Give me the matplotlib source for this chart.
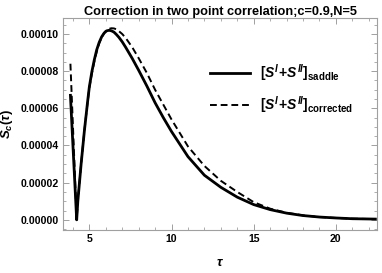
import matplotlib
matplotlib.use("Agg")
import matplotlib.pyplot as plt
from matplotlib.ticker import MultipleLocator, FormatStrFormatter

plt.rcParams['font.family'] = ['Liberation Sans', 'DejaVu Sans']
plt.rcParams['font.weight'] = 'bold'
plt.rcParams['mathtext.fontset'] = 'custom'
plt.rcParams['mathtext.it'] = 'Liberation Sans:italic:bold'
plt.rcParams['mathtext.rm'] = 'Liberation Sans:bold'
plt.rcParams['mathtext.bf'] = 'Liberation Sans:bold'

tau = [3.85, 4.0, 4.1, 4.23, 4.3, 4.4, 4.5, 4.6, 4.7, 4.8, 4.9, 5.0, 5.15, 5.3,
       5.45, 5.6, 5.75, 5.9, 6.05, 6.2, 6.35, 6.5, 6.65, 6.8, 7.0, 7.2, 7.6,
       8.0, 8.5, 9.0, 9.5, 10, 11, 12, 13, 14, 15, 16, 17, 18, 19, 20, 21, 22.4]
saddle = [6.7, 4.05, 2.3, 0.0, 1.0, 2.0, 3.0, 3.9, 4.8, 5.6, 6.4, 7.15, 7.95, 8.6,
          9.15, 9.55, 9.85, 10.05, 10.17, 10.2, 10.17, 10.1, 9.97, 9.82, 9.58, 9.3, 8.7,
          8.05, 7.2, 6.3, 5.5, 4.75, 3.4, 2.4, 1.75, 1.22, 0.82, 0.55,
          0.36, 0.23, 0.15, 0.1, 0.06, 0.04]
corrected = [8.4, 5.1, 2.9, 0.0, 1.0, 2.0, 3.0, 3.9, 4.8, 5.6, 6.35, 7.1, 7.85, 8.5,
             9.05, 9.5, 9.8, 10.05, 10.22, 10.28, 10.31, 10.3, 10.25, 10.15, 10.0, 9.8, 9.3,
             8.7, 7.9, 7.0, 6.2, 5.4, 3.95, 2.9, 2.1, 1.5, 0.95, 0.6,
             0.38, 0.24, 0.15, 0.1, 0.06, 0.04]
scale = 1e-5

fig = plt.figure(figsize=(3.82, 2.73), dpi=100)
ax = fig.add_axes([0.165, 0.158, 0.822, 0.776])

ax.plot(tau, [v * scale for v in saddle], color='black', lw=2.0,
        label=r'$[S^{I}\!+\!S^{II}]_{\mathrm{saddle}}$')
ax.plot(tau, [v * scale for v in corrected], color='black', lw=1.4, ls=(0, (3.5, 2)),
        label=r'$[S^{I}\!+\!S^{II}]_{\mathrm{corrected}}$')

ax.set_xlim(3.4, 22.5)
ax.set_ylim(-0.54e-5, 10.86e-5)
ax.xaxis.set_major_locator(MultipleLocator(5))
ax.xaxis.set_minor_locator(MultipleLocator(1))
ax.yaxis.set_major_locator(MultipleLocator(2e-5))
ax.yaxis.set_minor_locator(MultipleLocator(0.5e-5))
ax.yaxis.set_major_formatter(FormatStrFormatter('%.5f'))

for s in ax.spines.values():
    s.set_color('#a0a0a0')
    s.set_linewidth(0.8)
ax.tick_params(which='both', direction='in', top=True, right=True,
               color='#a0a0a0', labelsize=7.6, pad=3)
ax.tick_params(which='major', length=4, width=0.7)
ax.tick_params(which='minor', length=2, width=0.6)
for lab in ax.get_xticklabels() + ax.get_yticklabels():
    lab.set_fontweight('bold')

ax.set_title('Correction in two point correlation;c=0.9,N=5', fontsize=9.2,
             fontweight='bold', pad=2)
ax.set_xlabel(r'$\tau$', fontsize=9.5, labelpad=9)
ax.set_ylabel(r'$S_c(\tau)$', fontsize=9.5, labelpad=4)

leg = ax.legend(loc='upper left', bbox_to_anchor=(0.468, 0.79), frameon=False,
                fontsize=10, handlelength=2.9, handletextpad=0.7, labelspacing=0.75,
                borderpad=0, borderaxespad=0)

fig.savefig('out.png', dpi=100)
